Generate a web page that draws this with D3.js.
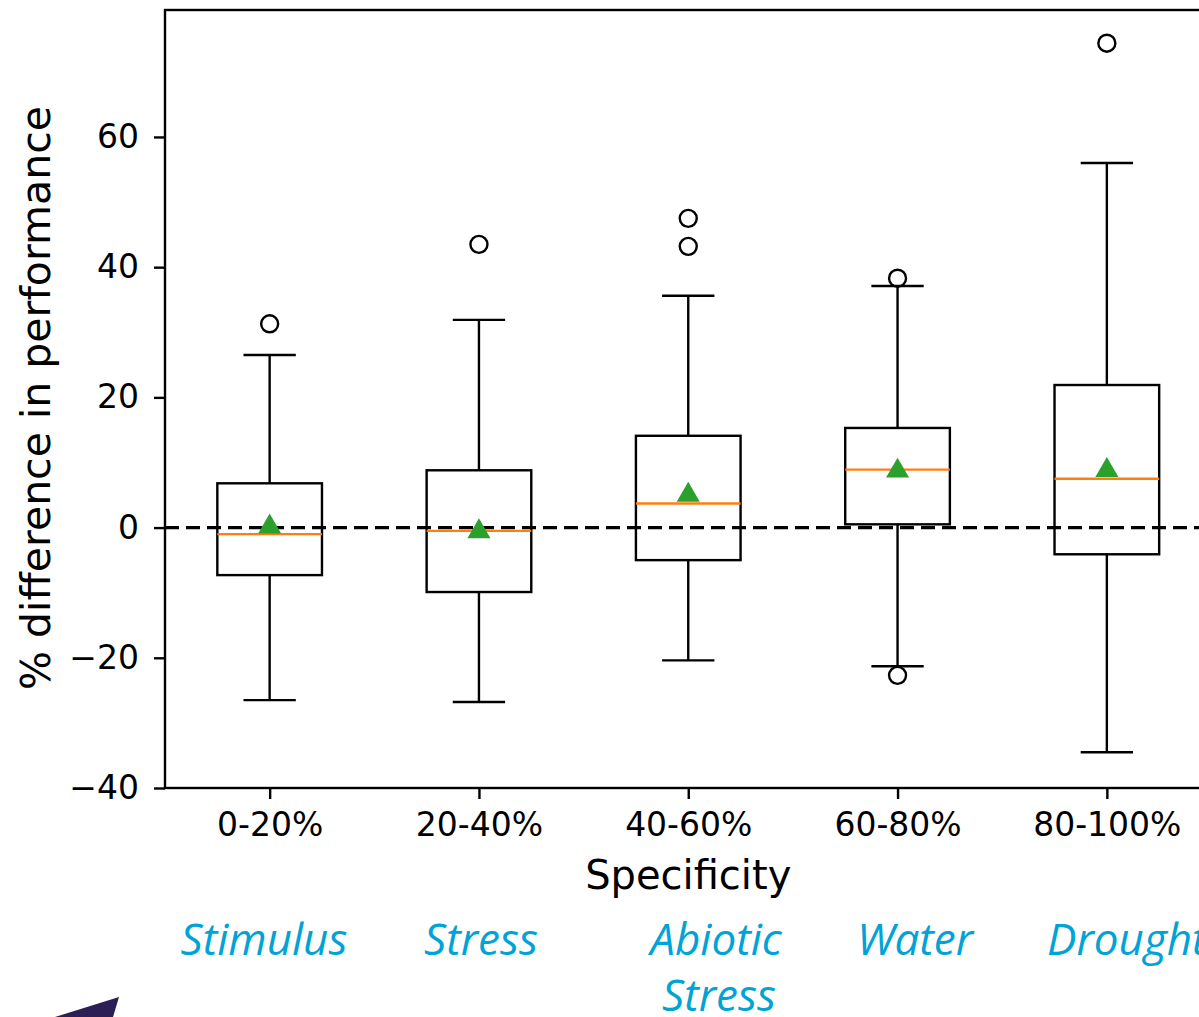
<!DOCTYPE html>
<html>
<head>
<meta charset="utf-8">
<script src="https://cdn.jsdelivr.net/npm/d3@7"></script>
<style>
  body { margin: 0; background: #fff; }
  svg { display: block; }
</style>
</head>
<body>
<svg width="1199" height="1017"></svg>
<script>
// data
const categories = ['0-20%', '20-40%', '40-60%', '60-80%', '80-100%'];
const terms = [['Stimulus'], ['Stress'], ['Abiotic', 'Stress'], ['Water'], ['Drought']];
const whiskerLow = [-26.5, -26.8, -20.4, -21.3, -34.5];
const q1 = [-7.3, -9.9, -5.0, 0.5, -4.1];
const median = [-1.0, -0.5, 3.7, 8.9, 7.5];
const q3 = [6.8, 8.8, 14.1, 15.3, 21.9];
const whiskerHigh = [26.5, 31.9, 35.6, 37.1, 56.0];
const means = [0.1, -0.6, 5.0, 8.7, 8.8];
const outliers = [[31.3], [43.5], [47.5, 43.2], [38.3, -22.7], [74.4]];
const yTicks = [-40, -20, 0, 20, 40, 60];

const svg = d3.select('svg');

const margin = { top: 10, left: 165, bottom: 788 };
const step = 209.3;

const xScale = d3
    .scaleLinear()
    .domain([0.5, 5.5])
    .range([margin.left, margin.left + 5 * step]);

const yScale = d3
    .scaleLinear()
    .domain([-40, 79.5])
    .range([margin.bottom, margin.top]);

const font = 'DejaVu Sans, sans-serif';
const boxW = step * 0.5;
const capW = step * 0.25;
const lw = 2.4;

const chart = svg.append('g');

// zero reference line
chart
    .append('line')
    .attr('x1', margin.left)
    .attr('x2', 1199)
    .attr('y1', yScale(0))
    .attr('y2', yScale(0))
    .attr('stroke', '#000')
    .attr('stroke-width', 3.4)
    .attr('stroke-dasharray', '14,7');

const boxes = chart
    .selectAll('.box')
    .data(categories)
    .enter()
    .append('g')
    .attr('class', 'box');

// whiskers
boxes
    .append('line')
    .attr('x1', (d, i) => xScale(i + 1))
    .attr('x2', (d, i) => xScale(i + 1))
    .attr('y1', (d, i) => yScale(whiskerHigh[i]))
    .attr('y2', (d, i) => yScale(q3[i]))
    .attr('stroke', '#000')
    .attr('stroke-width', lw);

boxes
    .append('line')
    .attr('x1', (d, i) => xScale(i + 1))
    .attr('x2', (d, i) => xScale(i + 1))
    .attr('y1', (d, i) => yScale(q1[i]))
    .attr('y2', (d, i) => yScale(whiskerLow[i]))
    .attr('stroke', '#000')
    .attr('stroke-width', lw);

// caps
[whiskerHigh, whiskerLow].forEach(function(arr) {
    boxes
        .append('line')
        .attr('x1', (d, i) => xScale(i + 1) - capW / 2)
        .attr('x2', (d, i) => xScale(i + 1) + capW / 2)
        .attr('y1', (d, i) => yScale(arr[i]))
        .attr('y2', (d, i) => yScale(arr[i]))
        .attr('stroke', '#000')
        .attr('stroke-width', lw);
});

// box
boxes
    .append('rect')
    .attr('x', (d, i) => xScale(i + 1) - boxW / 2)
    .attr('width', boxW)
    .attr('y', (d, i) => yScale(q3[i]))
    .attr('height', (d, i) => yScale(q1[i]) - yScale(q3[i]))
    .attr('fill', 'none')
    .attr('stroke', '#000')
    .attr('stroke-width', lw);

// median
boxes
    .append('line')
    .attr('x1', (d, i) => xScale(i + 1) - boxW / 2)
    .attr('x2', (d, i) => xScale(i + 1) + boxW / 2)
    .attr('y1', (d, i) => yScale(median[i]))
    .attr('y2', (d, i) => yScale(median[i]))
    .attr('stroke', '#ff7f0e')
    .attr('stroke-width', lw);

// mean triangles
const tri = d3.symbol().type(d3.symbolTriangle).size(230);
boxes
    .append('path')
    .attr('d', tri)
    .attr('transform', (d, i) => `translate(${xScale(i + 1)},${yScale(means[i])})`)
    .attr('fill', '#2ca02c');

// fliers
boxes.each(function(d, i) {
    d3.select(this)
        .selectAll('.flier')
        .data(outliers[i])
        .enter()
        .append('circle')
        .attr('class', 'flier')
        .attr('cx', xScale(i + 1))
        .attr('cy', v => yScale(v))
        .attr('r', 8.5)
        .attr('fill', 'none')
        .attr('stroke', '#000')
        .attr('stroke-width', lw);
});

// frame
chart
    .append('rect')
    .attr('x', margin.left)
    .attr('y', margin.top)
    .attr('width', xScale(5.5) - margin.left)
    .attr('height', margin.bottom - margin.top)
    .attr('fill', 'none')
    .attr('stroke', '#000')
    .attr('stroke-width', lw);

// Add the Y Axis
const yAxis = chart
    .append('g')
    .attr('transform', `translate(${margin.left},0)`)
    .call(d3.axisLeft(yScale).tickValues(yTicks).tickSize(11).tickPadding(15)
        .tickFormat(d => d < 0 ? '\u2212' + Math.abs(d) : d));
yAxis.select('.domain').remove();
yAxis.selectAll('line').attr('stroke-width', lw);
yAxis.selectAll('text').style('font-family', font).style('font-size', '33px').attr('fill', '#000');

// Add the X Axis
const xAxis = chart
    .append('g')
    .attr('transform', `translate(0,${margin.bottom})`)
    .call(d3.axisBottom(xScale).tickValues([1, 2, 3, 4, 5]).tickSize(11).tickPadding(14)
        .tickFormat((d, i) => categories[i]));
xAxis.select('.domain').remove();
xAxis.selectAll('line').attr('stroke-width', lw);
xAxis.selectAll('text').style('font-family', font).style('font-size', '33px').attr('fill', '#000');

chart
    .append('text')
    .attr('x', xScale(3))
    .attr('y', 889)
    .attr('text-anchor', 'middle')
    .style('font-family', font)
    .style('font-size', '40px')
    .text('Specificity');

chart
    .append('text')
    .attr('transform', 'translate(50,398) rotate(-90)')
    .attr('text-anchor', 'middle')
    .style('font-family', font)
    .style('font-size', '41px')
    .text('% difference in performance');

// blue term labels under each category
const termX = [264, 481, 716, 915, 1047];
const termAnchor = ['middle', 'middle', 'middle', 'middle', 'start'];
const labels = chart
    .selectAll('.term')
    .data(terms)
    .enter()
    .append('text')
    .attr('class', 'term')
    .attr('text-anchor', (d, i) => termAnchor[i])
    .attr('fill', '#00a3d6')
    .style('font-family', 'Open Sans, sans-serif')
    .style('font-style', 'italic')
    .style('font-size', '44px');

labels
    .selectAll('tspan')
    .data((d, i) => d.map(t => ({ t: t, i: i })))
    .enter()
    .append('tspan')
    .attr('x', d => termX[d.i] + (d.t === 'Stress' && d.i === 2 ? 3 : 0))
    .attr('y', (d, j) => 955 + j * 56)
    .text(d => d.t);

// slide decoration bottom-left
svg
    .append('path')
    .attr('d', 'M119,997 L113,1017 L55,1017 Z')
    .attr('fill', '#2b1f55');
</script>
</body>
</html>
